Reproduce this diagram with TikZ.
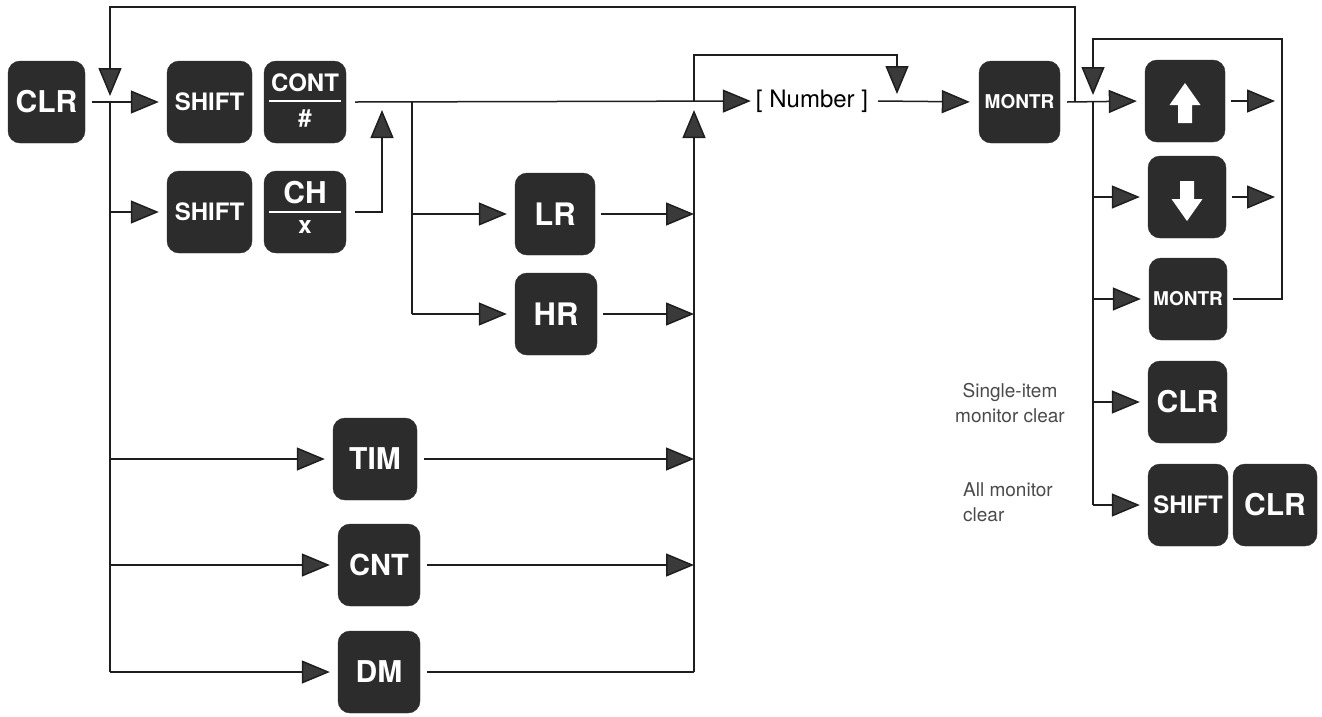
\documentclass[tikz,border=0pt]{standalone}
\usepackage{fontspec}
\setmainfont{TeX Gyre Heros}
\usetikzlibrary{arrows.meta,calc}
\definecolor{keyfill}{HTML}{2C2C2C}
\definecolor{tipgray}{HTML}{3A3A3A}
\definecolor{linecol}{HTML}{1E1E1E}
\definecolor{notegray}{HTML}{4A4A4A}
\newcommand{\notefont}{\fontsize{19pt}{24.5pt}\selectfont}
\begin{document}
\begin{tikzpicture}[x=1pt,y=-1pt,
  key/.style={rounded corners=12pt, fill=keyfill, draw=keyfill, text=white, inner sep=0pt, minimum width=#1, minimum height=82pt},
  key/.default=82pt,
  ktxt/.style={text=white, inner sep=0pt, font=\fontsize{#1}{#1}\selectfont\bfseries},
  conn/.style={draw=linecol, line width=1.5pt},
  tip/.style={conn, -{Triangle[length=28pt,width=23pt,fill=tipgray]}},
  arrk/.style={tip, shorten >=8pt},
  note/.style={text=notegray, inner sep=0pt}
]
\useasboundingbox (0,0) rectangle (1322,716);

% ---- keys ----
\node[key=77pt, font=\fontsize{30}{30}\selectfont\bfseries] (clr1) at (46.5,102) {CLR};
\node[key=85pt, font=\fontsize{24}{24}\selectfont\bfseries] (shift1) at (209.5,102) {SHIFT};
\node[key=82pt] (cont) at (305,102) {};
\node[key=85pt, font=\fontsize{24}{24}\selectfont\bfseries] (shift2) at (209.5,212) {SHIFT};
\node[key=82pt] (ch) at (305,212) {};
\node[key=80pt, font=\fontsize{31}{31}\selectfont\bfseries] (lr) at (555,214) {LR};
\node[key=82pt, font=\fontsize{31}{31}\selectfont\bfseries] (hr) at (556,314) {HR};
\node[key=84pt, font=\fontsize{30}{30}\selectfont\bfseries] (tim) at (375,459) {TIM};
\node[key=82pt, font=\fontsize{29}{29}\selectfont\bfseries] (cnt) at (379,565) {CNT};
\node[key=82pt, font=\fontsize{30}{30}\selectfont\bfseries] (dm) at (379,672) {DM};
\node[key=81pt, font=\fontsize{19}{19}\selectfont\bfseries] (montr1) at (1019.5,102) {MONTR};
\node[key=80pt] (up) at (1185,101) {};
\node[key=78pt] (down) at (1187,197) {};
\node[key=78pt, font=\fontsize{19}{19}\selectfont\bfseries] (montr2) at (1188,299) {MONTR};
\node[key=79pt, font=\fontsize{30}{30}\selectfont\bfseries] (clr2) at (1187.5,402) {CLR};
\node[key=80pt, font=\fontsize{24}{24}\selectfont\bfseries] (shift3) at (1188,505) {SHIFT};
\node[key=84pt, font=\fontsize{30}{30}\selectfont\bfseries] (clr3) at (1275,505) {CLR};

% two-part key labels
\node[ktxt=24] (contT) at ([yshift=19pt]cont.center) {CONT};
\node[ktxt=24] (contB) at ([yshift=-17pt]cont.center) {\#};
\draw[white, line width=1.8pt] ([xshift=-36pt,yshift=1pt]cont.center) -- ([xshift=36pt,yshift=1pt]cont.center);
\node[ktxt=30] (chT) at ([yshift=19pt]ch.center) {CH};
\node[ktxt=24] (chB) at ([yshift=-15pt]ch.center) {x};
\draw[white, line width=1.8pt] ([xshift=-36pt]ch.center) -- ([xshift=36pt]ch.center);

% arrow glyphs
\begin{scope}[shift={(up.center)}]
  \fill[white] (0,-18) -- (15.5,4) -- (7,4) -- (7,22) -- (-7,22) -- (-7,4) -- (-15.5,4) -- cycle;
\end{scope}
\begin{scope}[shift={(down.center)}]
  \fill[white] (0,24) -- (15.5,2) -- (7,2) -- (7,-16) -- (-7,-16) -- (-7,2) -- (-15.5,2) -- cycle;
\end{scope}

% text
\node[font=\fontsize{24}{24}\selectfont, inner sep=2pt] (num) at (812,101) {[ Number ]};
\node[note, align=center, font=\notefont] (single) at (1010,403) {\notefont Single-item\\\notefont monitor clear};
\node[note, align=left, anchor=west, font=\notefont] (allm) at (963,502) {\notefont All monitor\\\notefont clear};

% ---- junction coordinates ----
\coordinate (jL) at (110,102);
\coordinate (jA) at (382,102);
\coordinate (jB) at (412,102);
\coordinate (jC) at (694,102);
\coordinate (jD) at (897,102);
\coordinate (jE) at (1075,102);
\coordinate (jF) at (1093,102);
\coordinate (jG) at (1282,102);
\coordinate (tL) at (110,7);
\coordinate (tE) at (1075,7);
\coordinate (lC) at (694,55);
\coordinate (lD) at (897,55);
\coordinate (lF) at (1093,39);
\coordinate (lG) at (1282,39);

% ---- connectors: left part ----
\draw[arrk] ([xshift=7pt]clr1.east) -- (shift1.west);
\draw[conn] (jL) -- (jL |- dm.west);
\draw[arrk] (jL |- shift2.west) -- (shift2.west);
\draw[arrk] (jL |- tim.west) -- (tim.west);
\draw[arrk] (jL |- cnt.west) -- (cnt.west);
\draw[arrk] (jL |- dm.west) -- (dm.west);

% main line
\draw[tip, shorten >=3pt] ([xshift=9pt]cont.east) -- (num.west);
\draw[tip] ([xshift=9pt]ch.east) -| ($(jA)+(0,8)$);
\draw[conn] (jB) -- (jB |- hr.west);
\draw[arrk] (jB |- lr.west) -- (lr.west);
\draw[arrk] (jB |- hr.west) -- (hr.west);

% right bus of left section
\draw[tip] ([xshift=6pt]lr.east) -- (jC |- lr.east);
\draw[tip] ([xshift=6pt]hr.east) -- (jC |- hr.east);
\draw[tip] ([xshift=7pt]tim.east) -- (jC |- tim.east);
\draw[tip] ([xshift=7pt]cnt.east) -- (jC |- cnt.east);
\draw[conn] ([xshift=7pt]dm.east) -- (jC |- dm.east);
\draw[tip] (jC |- dm.east) -- ($(jC)+(0,8)$);

% loops
\draw[tip] (jC) -- (lC) -- (lD) -- ($(jD)+(0,-8)$);
\draw[arrk, shorten >=9pt] ([xshift=8pt]num.east) -- (montr1.west);
\draw[tip] (jE) -- (tE) -- (tL) -- ($(jL)+(0,-6)$);

% right section
\draw[arrk] ([xshift=7pt]montr1.east) -- (up.west);
\draw[conn] (jF) -- (jF |- shift3.west);
\draw[arrk] (jF |- down.west) -- (down.west);
\draw[arrk] (jF |- montr2.west) -- (montr2.west);
\draw[arrk] (jF |- clr2.west) -- (clr2.west);
\draw[arrk] (jF |- shift3.west) -- (shift3.west);
\draw[tip] ([xshift=6pt]up.east) -- ($(jG |- up.east)+(-7,0)$);
\draw[tip] ([xshift=6pt]down.east) -- ($(jG |- down.east)+(-7,0)$);
\draw[tip] ([xshift=6pt]montr2.east) -- (jG |- montr2.east) -- (lG) -- (lF) -- ($(jF)+(0,-7)$);
\end{tikzpicture}
\end{document}
